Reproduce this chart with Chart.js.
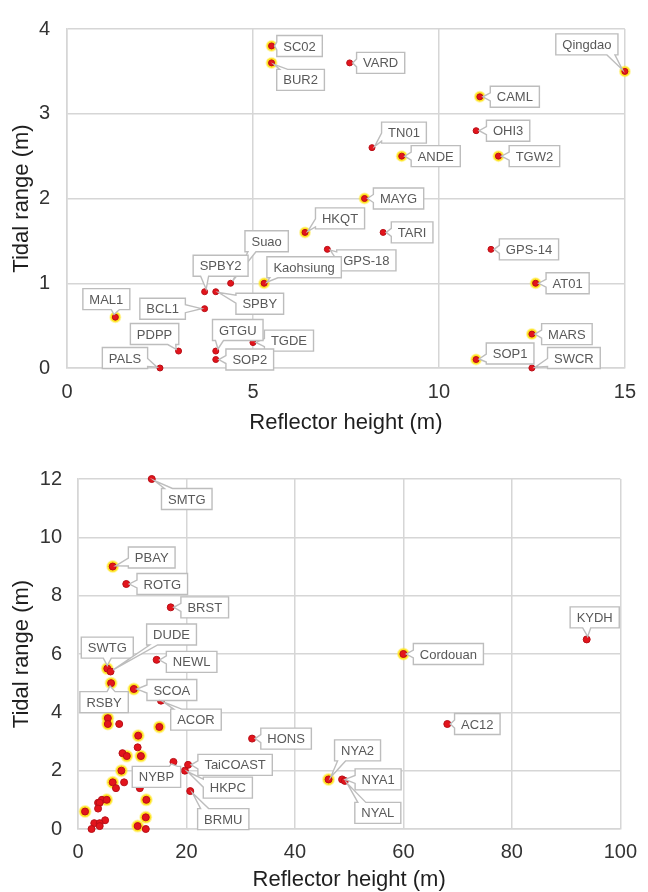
<!DOCTYPE html>
<html>
<head>
<meta charset="utf-8">
<script src="https://cdn.jsdelivr.net/npm/chart.js@4.4.1/dist/chart.umd.min.js"></script>
<style>
  html, body { margin: 0; padding: 0; background: #fff; }
  body { width: 648px; height: 892px; position: relative; overflow: hidden; }
  .panel { position: absolute; left: 0; width: 648px; }
  #nearPanel { top: 0; height: 445px; }
  #widePanel { top: 445px; height: 452px; }
</style>
</head>
<body>
<div class="panel" id="nearPanel"><canvas id="nearChart" width="648" height="445"></canvas></div>
<div class="panel" id="widePanel"><canvas id="wideChart" width="648" height="452"></canvas></div>
<script>
// stations with reflector heights up to 15 m
const nearNames = ['SC02', 'BUR2', 'VARD', 'Qingdao', 'CAML', 'OHI3', 'TN01', 'ANDE', 'TGW2', 'MAYG',
  'HKQT', 'TARI', 'GPS-18', 'GPS-14', 'Suao', 'Kaohsiung', 'SPBY2', 'SPBY', 'BCL1', 'AT01',
  'MAL1', 'MARS', 'TGDE', 'PDPP', 'GTGU', 'SOP2', 'SOP1', 'PALS', 'SWCR'];
const nearHeight = [5.5, 5.5, 7.6, 15.0, 11.1, 11.0, 8.2, 9.0, 11.6, 8.0,
  6.4, 8.5, 7.0, 11.4, 4.4, 5.3, 3.7, 4.0, 3.7, 12.6,
  1.3, 12.5, 5.0, 3.0, 4.0, 4.0, 11.0, 2.5, 12.5];
const nearRange = [3.8, 3.6, 3.6, 3.5, 3.2, 2.8, 2.6, 2.5, 2.5, 2.0,
  1.6, 1.6, 1.4, 1.4, 1.0, 1.0, 0.9, 0.9, 0.7, 1.0,
  0.6, 0.4, 0.3, 0.2, 0.2, 0.1, 0.1, 0.0, 0.0];
const nearMarked = [1, 1, 0, 1, 1, 0, 0, 1, 1, 1,
  1, 0, 0, 0, 0, 1, 0, 0, 0, 1,
  1, 1, 0, 0, 0, 0, 1, 0, 0];

// taller reflectors, only shown on the wide panel
const tallNames = ['SMTG', 'PBAY', 'ROTG', 'BRST', 'SWTG', 'DUDE', 'NEWL', 'RSBY', 'SCOA', 'ACOR',
  'HONS', 'NYBP', 'TaiCOAST', 'HKPC', 'BRMU', 'NYA2', 'NYA1', 'NYAL', 'AC12', 'Cordouan', 'KYDH'];
const tallHeight = [13.6, 6.4, 8.9, 17.1, 5.4, 6.0, 14.5, 6.1, 10.3, 15.3,
  32.1, 17.6, 20.3, 19.7, 20.7, 46.2, 48.7, 49.2, 68.1, 60.0, 93.8];
const tallRange = [12.0, 9.0, 8.4, 7.6, 5.5, 5.4, 5.8, 5.0, 4.8, 4.4,
  3.1, 2.3, 2.2, 2.0, 1.3, 1.7, 1.7, 1.65, 3.6, 6.0, 6.5];
const tallMarked = [0, 1, 0, 0, 1, 0, 0, 1, 1, 0,
  0, 0, 0, 0, 0, 1, 0, 0, 0, 1, 0];

const FONT = "'Liberation Sans', Arial, sans-serif";
const GRID = '#d6d6d6';

// label box offsets from the marker, in pixels
const nearLabelPos = {
  'SC02': [28, 0], 'BUR2': [29, 17], 'VARD': [31, 0], 'Qingdao': [-38, -27], 'CAML': [35, 0],
  'TN01': [32, -15], 'ANDE': [34, 0], 'OHI3': [32, 0], 'TGW2': [36, 0], 'MAYG': [34, 0],
  'HKQT': [35, -14], 'TARI': [29, 0], 'GPS-18': [39, 11], 'GPS-14': [38, 0], 'AT01': [32, 0],
  'MARS': [35, 0], 'SOP1': [34, -6], 'SWCR': [42, -10], 'Suao': [36, -42], 'SPBY2': [16, -26],
  'SPBY': [44, 12], 'Kaohsiung': [40, -16], 'BCL1': [-42, 0], 'MAL1': [-9, -18], 'PDPP': [-24, -17],
  'PALS': [-35, -10], 'GTGU': [22, -21], 'SOP2': [34, 0], 'TGDE': [36, -2]
};
const wideLabelPos = {
  'SMTG': [35, 20], 'PBAY': [39, -9], 'ROTG': [36, 0], 'BRST': [34, 0], 'DUDE': [61, -37],
  'SWTG': [0, -21], 'NEWL': [35, 2], 'RSBY': [-7, 19], 'SCOA': [38, 1], 'ACOR': [35, 19],
  'HONS': [34, 0], 'TaiCOAST': [47, 0], 'NYBP': [-17, 15], 'HKPC': [43, 17], 'BRMU': [33, 28],
  'NYA2': [29, -29], 'NYA1': [36, 0], 'NYAL': [33, 32], 'AC12': [30, 0], 'Cordouan': [45, 0],
  'KYDH': [8, -22]
};

function toPoints(names, xs, ys) {
  return names.map((n, i) => ({ x: xs[i], y: ys[i], name: n }));
}

function pickMarked(points, flags) {
  return points.filter((p, i) => flags[i]);
}

// box with a wedge pointing at the marker, like a spreadsheet data callout
function drawCallout(ctx, cx, cy, w, h, px, py, text) {
  const l = cx - w / 2, r = cx + w / 2, t = cy - h / 2, b = cy + h / 2;
  const dx = px - cx, dy = py - cy;
  const d = Math.hypot(dx, dy) || 1;
  const tipX = px - dx / d * 3, tipY = py - dy / d * 3;
  let side;
  if (Math.abs(dx) / (w / 2) > Math.abs(dy) / (h / 2)) side = dx < 0 ? 'left' : 'right';
  else side = dy < 0 ? 'top' : 'bottom';
  const my = Math.min(Math.max(py, t + 6), b - 6);
  const mx = Math.min(Math.max(px, l + 7), r - 7);

  ctx.beginPath();
  ctx.moveTo(l, t);
  if (side === 'top') { ctx.lineTo(mx - 4, t); ctx.lineTo(tipX, tipY); ctx.lineTo(mx + 4, t); }
  ctx.lineTo(r, t);
  if (side === 'right') { ctx.lineTo(r, my - 4); ctx.lineTo(tipX, tipY); ctx.lineTo(r, my + 4); }
  ctx.lineTo(r, b);
  if (side === 'bottom') { ctx.lineTo(mx + 4, b); ctx.lineTo(tipX, tipY); ctx.lineTo(mx - 4, b); }
  ctx.lineTo(l, b);
  if (side === 'left') { ctx.lineTo(l, my + 4); ctx.lineTo(tipX, tipY); ctx.lineTo(l, my - 4); }
  ctx.closePath();
  ctx.fillStyle = '#ffffff';
  ctx.fill();
  ctx.lineWidth = 1.4;
  ctx.strokeStyle = '#bdbdbd';
  ctx.stroke();

  ctx.fillStyle = '#595959';
  ctx.textAlign = 'center';
  ctx.textBaseline = 'middle';
  ctx.fillText(text, cx, cy + 1);
}

const calloutPlugin = {
  id: 'callouts',
  afterDatasetsDraw(chart, args, opts) {
    const ctx = chart.ctx;
    const xScale = chart.scales.x, yScale = chart.scales.y;
    ctx.save();
    ctx.font = `13px ${FONT}`;
    chart.data.datasets[0].data.forEach(p => {
      const off = opts.offsets[p.name];
      if (!off) return;
      const px = xScale.getPixelForValue(p.x);
      const py = yScale.getPixelForValue(p.y);
      const w = ctx.measureText(p.name).width + 13;
      drawCallout(ctx, px + off[0], py + off[1], w, 21, px, py, p.name);
    });
    ctx.restore();
  }
};

function axis(min, max, step, title, cfg) {
  return {
    type: 'linear',
    min: min,
    max: max,
    ticks: { stepSize: step, padding: cfg.tickPad, color: '#333333', font: { family: FONT, size: 20 } },
    grid: { color: GRID, lineWidth: 1.5, drawTicks: false },
    border: { color: GRID, width: 1.5 },
    title: { display: true, text: title, color: '#1f1f1f', font: { family: FONT, size: 22 }, padding: cfg.titlePad },
    afterFit: cfg.fit
  };
}

function buildScatter(canvasId, points, marked, labelPos, sizes) {
  const ctx = document.getElementById(canvasId).getContext('2d');
  return new Chart(ctx, {
    type: 'scatter',
    data: {
      datasets: [
        {
          label: 'stations',
          data: points,
          pointRadius: sizes.dot,
          backgroundColor: '#e3141c',
          borderColor: '#b80f17',
          borderWidth: 1,
          clip: false,
          order: 0
        },
        {
          label: 'marked',
          data: marked,
          pointRadius: sizes.halo,
          backgroundColor: '#ffe31a',
          borderColor: 'rgba(255, 232, 60, 0.45)',
          borderWidth: 2,
          clip: false,
          order: 1
        }
      ]
    },
    options: {
      responsive: false,
      animation: false,
      events: [],
      layout: { padding: sizes.padding },
      plugins: {
        legend: { display: false },
        tooltip: { enabled: false },
        callouts: { offsets: labelPos }
      },
      scales: {
        x: axis(sizes.xMin, sizes.xMax, sizes.xStep, 'Reflector height (m)', {
          tickPad: sizes.xTickPad, titlePad: { top: 0, bottom: sizes.xTitleBottom },
          fit: s => { s.height = sizes.xHeight; }
        }),
        y: axis(sizes.yMin, sizes.yMax, sizes.yStep, 'Tidal range (m)', {
          tickPad: sizes.yTickPad, titlePad: { top: sizes.yTitleLeft, bottom: 0 },
          fit: s => { s.width = sizes.yWidth; }
        })
      }
    },
    plugins: [calloutPlugin]
  });
}

document.addEventListener('DOMContentLoaded', () => {
  const nearPoints = toPoints(nearNames, nearHeight, nearRange);
  const tallPoints = toPoints(tallNames, tallHeight, tallRange);

  buildScatter('nearChart', nearPoints, pickMarked(nearPoints, nearMarked), nearLabelPos, {
    dot: 3, halo: 5,
    padding: { top: 22, right: 16, bottom: 0, left: 0 },
    xMin: 0, xMax: 15, xStep: 5, xTickPad: 12, xTitleBottom: 9, xHeight: 77,
    yMin: 0, yMax: 4, yStep: 1, yTickPad: 17, yTitleLeft: 9, yWidth: 67
  });

  // the wide panel repeats the short stations unlabelled
  const allPoints = nearPoints.concat(tallPoints);
  const allMarked = pickMarked(nearPoints, nearMarked).concat(pickMarked(tallPoints, tallMarked));
  buildScatter('wideChart', allPoints, allMarked, wideLabelPos, {
    dot: 3.5, halo: 5.5,
    padding: { top: 34, right: 19, bottom: 0, left: 0 },
    xMin: 0, xMax: 100, xStep: 20, xTickPad: 11, xTitleBottom: 4, xHeight: 68,
    yMin: 0, yMax: 12, yStep: 2, yTickPad: 16, yTitleLeft: 9, yWidth: 78
  });
});
</script>
</body>
</html>
